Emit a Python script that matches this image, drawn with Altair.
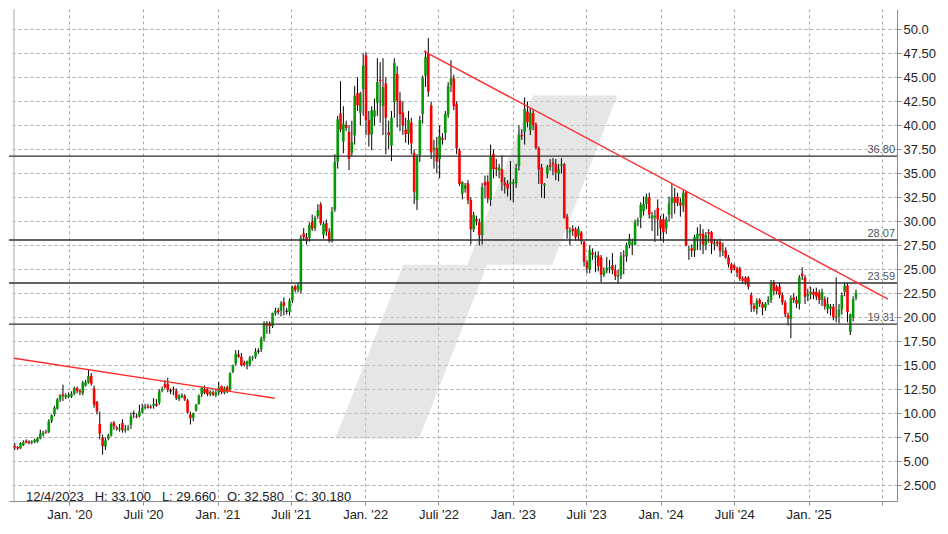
import pandas as pd
import altair as alt

# ---------------- data (weekly candles: open, high, low, close) ----------------
seg_2019_2020 = [
    (6.6, 6.9, 6.2, 6.45), (6.5, 6.6, 6.2, 6.35), (6.35, 7.0, 6.3, 6.9), (6.7, 7.2, 6.6, 7.0),
    (7.15, 7.3, 6.9, 6.95), (7.05, 7.2, 6.8, 6.9), (6.95, 7.2, 6.8, 7.05), (7.0, 7.4, 6.9, 7.25),
    (7.05, 7.5, 6.95, 7.4), (7.4, 8.3, 7.3, 7.9), (7.8, 8.2, 7.6, 8.0), (8.1, 8.3, 7.9, 8.0),
    (8.05, 9.4, 7.95, 9.2), (9.2, 9.9, 9.0, 9.8), (9.9, 10.8, 9.7, 10.6), (10.5, 11.6, 10.4, 11.45),
    (11.45, 12.0, 11.2, 11.9), (12.0, 13.0, 11.3, 11.8), (11.7, 12.1, 11.5, 11.9), (11.7, 12.2, 11.6, 11.9),
    (11.75, 12.3, 11.6, 12.05), (12.05, 12.8, 11.9, 12.65), (12.65, 12.8, 12.1, 12.35), (12.35, 12.5, 11.9, 12.2),
    (12.1, 13.4, 11.9, 13.2), (12.9, 13.5, 12.8, 13.25), (13.2, 14.6, 13.1, 13.9), (13.9, 14.2, 12.9, 13.1),
    (12.6, 12.9, 10.6, 10.9), (11.2, 11.3, 9.9, 10.2), (8.9, 10.2, 7.3, 7.9), (7.5, 7.8, 5.7, 6.6),
    (6.55, 7.5, 6.2, 7.2), (7.4, 7.9, 7.2, 7.7), (7.7, 9.1, 7.6, 8.9), (9.05, 9.2, 8.3, 8.65),
    (8.55, 8.7, 8.2, 8.4), (8.35, 8.9, 8.1, 8.45), (9.0, 9.4, 8.0, 8.25), (8.25, 8.8, 8.0, 8.35),
    (8.35, 8.8, 8.2, 8.5), (8.8, 10.1, 8.4, 9.7), (9.95, 10.3, 9.5, 9.95), (9.75, 10.0, 9.5, 9.65),
    (9.7, 10.9, 9.6, 10.2), (10.2, 11.0, 10.0, 10.55), (10.6, 11.0, 10.4, 10.7), (10.75, 11.0, 10.5, 10.6),
    (10.7, 10.9, 10.5, 10.6), (10.8, 11.6, 10.5, 11.0), (11.0, 11.5, 10.7, 10.8), (11.1, 12.5, 10.9, 12.3),
]
seg_2020_2021 = [
    (12.35, 12.8, 12.2, 12.55), (13.05, 13.5, 12.6, 12.7), (13.1, 13.7, 12.2, 12.45), (12.3, 12.6, 12.0, 12.3),
    (12.55, 12.8, 11.9, 12.45), (12.35, 12.6, 11.4, 11.6), (11.5, 12.0, 11.3, 11.85), (11.75, 12.1, 11.6, 11.9),
    (11.85, 12.0, 11.3, 11.45), (11.35, 11.5, 10.0, 10.1), (9.9, 10.2, 8.85, 9.5), (9.55, 10.1, 9.2, 10.0),
    (10.3, 11.0, 10.2, 10.9), (11.0, 12.0, 10.9, 11.85), (12.0, 12.8, 11.7, 12.65), (12.55, 12.9, 12.0, 12.15),
    (12.5, 12.7, 11.8, 12.0), (12.0, 12.4, 11.8, 12.25), (12.2, 12.4, 11.8, 11.95), (11.9, 12.5, 11.7, 12.2),
    (12.2, 13.3, 11.9, 12.7), (12.85, 12.9, 12.0, 12.2), (12.15, 12.8, 12.0, 12.65), (12.75, 12.9, 12.1, 12.3),
    (12.5, 14.3, 12.3, 14.15), (14.35, 15.1, 14.2, 15.0), (15.2, 16.6, 15.0, 16.2), (16.15, 16.6, 15.8, 15.9),
    (15.9, 16.3, 14.9, 15.05), (15.3, 15.5, 14.9, 15.05), (15.1, 15.5, 14.6, 15.45), (15.1, 16.0, 14.9, 15.8),
    (15.75, 16.0, 15.5, 15.85), (15.9, 16.8, 15.7, 16.45), (16.45, 16.8, 16.2, 16.45), (16.7, 18.0, 16.4, 17.8),
    (17.8, 19.6, 17.5, 19.4), (19.4, 19.6, 18.3, 19.15), (19.35, 19.6, 18.3, 19.1), (19.1, 20.5, 18.9, 20.45),
    (20.45, 21.0, 20.2, 20.7), (20.75, 21.0, 20.3, 20.55), (20.7, 21.7, 20.1, 21.45), (21.6, 22.1, 20.2, 21.2),
    (20.6, 21.0, 20.3, 20.6), (20.6, 22.0, 20.2, 21.75), (21.75, 23.3, 21.5, 23.15), (23.25, 23.4, 22.6, 22.85),
    (22.9, 23.6, 22.6, 23.3),
]
seg_2021_2022 = [
    (22.8, 28.6, 22.5, 28.3), (28.75, 29.3, 28.0, 28.35), (28.35, 28.8, 27.6, 27.95), (28.3, 29.9, 27.9, 29.63),
    (29.97, 30.7, 29.0, 29.23), (29.3, 30.6, 29.0, 30.37), (30.57, 31.8, 30.3, 31.15), (31.78, 32.0, 29.6, 29.8),
    (28.62, 30.0, 28.2, 29.76), (29.83, 30.2, 28.5, 28.96), (28.96, 29.3, 27.8, 27.95), (27.95, 31.5, 27.8, 31.04),
    (31.21, 37.0, 31.0, 36.2), (36.26, 41.0, 35.5, 40.64), (41.25, 44.6, 39.3, 39.56), (38.3, 42.0, 37.1, 40.13),
    (40.07, 40.5, 39.4, 39.73), (39.33, 40.0, 35.35, 36.53), (37.14, 40.5, 36.8, 38.28), (38.96, 44.1, 38.0, 43.1),
    (43.37, 45.0, 41.5, 42.09), (41.31, 43.5, 40.0, 43.37), (43.77, 47.5, 41.0, 46.23), (47.31, 47.6, 39.0, 40.57),
    (40.57, 41.5, 37.8, 39.06), (39.06, 42.0, 37.4, 41.58), (40.91, 42.8, 40.0, 41.58), (42.36, 47.0, 41.0, 44.51),
    (44.78, 46.6, 40.3, 44.61), (42.0, 47.0, 39.0, 44.0), (44.38, 45.0, 37.0, 40.81), (39.29, 40.5, 37.5, 38.99),
    (37.88, 41.5, 36.3, 40.81), (42.42, 47.0, 40.8, 46.53), (45.39, 46.2, 39.8, 42.59), (42.59, 43.5, 39.4, 41.18),
    (41.35, 42.5, 39.0, 40.0), (39.56, 40.8, 38.2, 39.1), (39.13, 41.5, 38.0, 40.57), (40.3, 40.8, 37.0, 38.15),
    (37.14, 37.5, 31.8, 33.1), (32.22, 37.0, 31.2, 36.7), (36.87, 41.0, 36.2, 40.57), (41.18, 45.2, 40.2, 44.95),
    (45.19, 47.8, 44.0, 47.14), (47.47, 49.1, 43.0, 43.54), (42.09, 42.5, 36.5, 37.2), (37.54, 38.5, 35.5, 37.71),
    (37.64, 38.8, 35.0, 36.26), (36.5, 40.0, 34.5, 38.85), (38.7, 39.2, 38.0, 38.5),
]
seg_2022_2023 = [
    (39.2, 41.5, 38.5, 41.2), (41.1, 44.5, 40.8, 44.1), (44.2, 46.8, 43.5, 44.9), (44.9, 45.3, 41.6, 42.0),
    (42.2, 42.5, 37.0, 37.6), (37.4, 37.6, 33.7, 33.9), (32.9, 34.2, 32.3, 34.1), (33.4, 34.0, 33.0, 33.75),
    (33.99, 34.3, 31.8, 32.2), (32.23, 32.5, 27.6, 29.18), (29.18, 31.0, 28.9, 30.7), (30.26, 30.6, 29.6, 30.03),
    (29.92, 30.3, 27.5, 28.57), (28.57, 34.0, 27.6, 33.58), (34.09, 34.77, 32.4, 33.75), (34.16, 34.8, 31.9, 32.4),
    (32.23, 38.0, 31.6, 36.81), (37.04, 37.5, 34.5, 35.45), (35.62, 36.5, 34.7, 35.45), (35.3, 36.0, 34.5, 35.62),
    (35.45, 36.9, 33.2, 34.09), (34.09, 34.6, 32.9, 33.75), (33.92, 34.3, 32.6, 33.42), (33.92, 36.3, 32.2, 34.09),
    (33.92, 34.4, 32.0, 34.09), (33.99, 36.0, 33.5, 35.55), (35.79, 40.0, 35.3, 39.01), (39.01, 39.6, 38.5, 38.84),
    (39.35, 42.9, 38.0, 41.72), (41.45, 42.5, 39.8, 40.36), (39.5, 41.8, 39.0, 41.31), (41.31, 41.6, 39.5, 40.03),
    (40.09, 40.3, 37.5, 37.65), (37.65, 37.8, 33.9, 35.45), (35.62, 36.0, 32.5, 33.92), (33.75, 34.0, 32.4, 33.92),
    (34.94, 35.9, 34.5, 35.69), (35.86, 36.5, 35.3, 35.69), (36.13, 36.6, 34.8, 35.96), (35.96, 36.5, 34.3, 35.11),
    (34.94, 36.0, 34.2, 35.45), (35.82, 36.6, 35.0, 35.96), (35.96, 36.1, 30.3, 30.36), (30.5, 30.8, 28.2, 29.18),
    (28.84, 29.4, 27.5, 29.08), (29.25, 29.6, 28.5, 29.01), (29.18, 29.4, 28.0, 28.33), (28.5, 29.5, 28.0, 29.25),
    (28.84, 29.0, 27.6, 27.99), (27.89, 28.0, 25.3, 25.79), (25.79, 26.0, 24.6, 25.11),
]
seg_2023_2024 = [
    (25.02, 27.5, 24.6, 27.03), (26.76, 27.2, 26.0, 26.53), (26.26, 26.86, 24.7, 26.46), (26.46, 26.9, 24.8, 25.35),
    (26.26, 26.5, 23.67, 24.45), (24.45, 25.2, 24.2, 24.85), (24.85, 26.3, 24.6, 25.18), (25.12, 26.0, 24.6, 25.25),
    (25.42, 26.7, 24.5, 24.92), (24.92, 25.5, 23.9, 24.31), (24.24, 25.0, 23.51, 24.41), (24.41, 26.8, 24.0, 26.36),
    (26.46, 27.0, 24.5, 26.36), (26.36, 27.8, 25.8, 27.53), (27.53, 28.7, 27.2, 28.2), (27.6, 28.2, 26.5, 27.8),
    (27.6, 30.2, 27.5, 29.95), (29.95, 30.4, 29.5, 30.12), (30.39, 32.0, 29.3, 31.73), (31.06, 32.6, 30.6, 31.83),
    (31.83, 32.9, 31.3, 32.57), (32.5, 33.0, 30.3, 30.72), (30.29, 31.0, 29.0, 30.62), (30.4, 31.2, 27.87, 30.62),
    (31.39, 32.3, 28.5, 30.22), (30.22, 30.6, 28.0, 29.28), (30.22, 30.8, 27.8, 28.88), (29.28, 30.5, 28.7, 30.22),
    (30.72, 32.6, 30.0, 31.9), (31.9, 33.91, 30.3, 32.5), (32.5, 33.5, 30.8, 31.96), (32.57, 33.0, 31.6, 31.9),
    (31.96, 32.4, 30.5, 31.66), (31.63, 33.3, 31.0, 32.97), (33.07, 33.2, 27.4, 27.53), (27.0, 27.5, 26.0, 27.1),
    (27.2, 27.6, 26.3, 26.96), (26.96, 28.6, 26.3, 28.37), (28.2, 29.4, 27.0, 28.71), (28.71, 29.71, 27.0, 28.54),
    (28.71, 29.2, 26.6, 27.6), (27.53, 28.9, 27.0, 28.54), (28.88, 29.2, 27.8, 28.71), (28.88, 29.0, 26.6, 27.7),
    (27.6, 28.2, 27.0, 27.8), (27.87, 28.1, 27.4, 27.7), (27.87, 28.2, 26.3, 26.93), (26.8, 27.8, 26.4, 26.93),
    (27.0, 27.3, 26.1, 26.26), (26.26, 26.5, 25.2, 25.52), (25.52, 25.7, 24.6, 24.92),
]
seg_2024_2025 = [
    (25.43, 25.6, 24.9, 25.1), (25.1, 25.3, 24.2, 24.67), (25.1, 25.3, 23.8, 24.0), (24.07, 24.3, 23.5, 23.83),
    (24.17, 24.3, 23.4, 23.67), (24.17, 24.3, 22.9, 23.17), (22.33, 22.6, 20.57, 21.33), (21.23, 21.5, 20.6, 20.9),
    (20.9, 22.0, 20.33, 21.73), (21.83, 22.0, 21.1, 21.43), (21.43, 21.6, 20.23, 21.0), (21.0, 21.6, 20.7, 21.43),
    (21.57, 22.2, 21.3, 21.83), (21.83, 23.9, 21.5, 23.57), (23.67, 23.9, 22.3, 22.77), (23.17, 23.4, 22.4, 22.73),
    (23.23, 23.6, 22.0, 22.33), (22.33, 22.6, 21.3, 21.57), (21.57, 21.8, 20.0, 20.33), (20.23, 20.5, 19.17, 19.9),
    (19.83, 22.3, 17.83, 22.0), (22.07, 22.5, 21.5, 21.83), (21.83, 22.2, 21.0, 21.43), (21.43, 24.4, 20.83, 24.17),
    (24.57, 25.23, 23.9, 24.3), (24.17, 24.4, 21.4, 22.17), (22.17, 23.0, 21.7, 22.43), (22.43, 23.2, 21.9, 22.67),
    (22.67, 23.0, 21.9, 22.33), (22.67, 23.1, 21.8, 22.17), (22.57, 22.9, 21.4, 21.83), (21.83, 23.0, 21.2, 22.67),
    (21.9, 22.2, 20.8, 21.17), (20.9, 22.1, 20.4, 21.43), (20.9, 21.4, 20.2, 21.17), (21.1, 21.4, 19.7, 20.0),
    (20.0, 24.17, 19.5, 20.1), (20.1, 21.4, 19.4, 20.83), (20.83, 22.6, 20.3, 22.33), (22.67, 23.67, 22.2, 23.33),
    (23.33, 23.6, 19.5, 20.57), (18.5, 20.4, 18.17, 20.33), (20.0, 22.2, 19.6, 21.9), (22.07, 22.9, 21.8, 22.57),
]
first_week = "2019-08-19"

# horizontal support / resistance levels
level_values = [36.80, 28.07, 23.59, 19.31]

# trend lines (two points each)
trend_ids = ["a", "a", "b", "b"]
trend_dates = ["2019-08-17", "2021-05-22", "2022-05-26", "2025-07-16"]
trend_values = [15.75, 11.59, 47.74, 21.92]

# watermark logo: two slanted bands, each given as outline points (date, upper price, lower price)
wm_band = ["low", "low", "low", "low", "up", "up", "up", "up"]
wm_dates = ["2021-10-19", "2022-04-05", "2022-05-14", "2022-10-29",
            "2022-09-11", "2023-02-19", "2023-04-08", "2023-09-16"]
wm_upper = [7.36, 25.49, 25.49, 25.49, 25.49, 43.11, 43.11, 43.11]
wm_lower = [7.36, 7.36, 7.36, 25.49, 25.49, 25.49, 25.49, 43.11]

# info line
info_date = "12/4/2023"
info_h, info_l, info_o, info_c = "33.100", "29.660", "32.580", "30.180"

# axes
x_tick_dates = ["2020-01-01", "2020-07-01", "2021-01-01", "2021-07-01", "2022-01-01", "2022-07-01",
                "2023-01-01", "2023-07-01", "2024-01-01", "2024-07-01", "2025-01-01", "2025-07-01"]
x_tick_labels = ["Jan. '20", "Juli '20", "Jan. '21", "Juli '21", "Jan. '22", "Juli '22",
                 "Jan. '23", "Juli '23", "Jan. '24", "Juli '24", "Jan. '25", ""]
y_tick_values = [2.5, 5.0, 7.5, 10.0, 12.5, 15.0, 17.5, 20.0, 22.5, 25.0, 27.5, 30.0,
                 32.5, 35.0, 37.5, 40.0, 42.5, 45.0, 47.5, 50.0]
y_tick_labels = ["2.500", "5.00", "7.50", "10.00", "12.50", "15.00", "17.50", "20.00", "22.50", "25.00",
                 "27.50", "30.00", "32.50", "35.00", "37.50", "40.00", "42.50", "45.00", "47.50", "50.0"]
x_domain = ["2019-08-17", "2025-07-26"]
y_domain = [0.88, 52.13]

# ---------------- build tables ----------------
def ms(s):
    return int(pd.Timestamp(s).value // 10**6)

rows = seg_2019_2020 + seg_2020_2021 + seg_2021_2022 + seg_2022_2023 + seg_2023_2024 + seg_2024_2025
dates = pd.date_range(first_week, periods=len(rows), freq="7D")
candles = pd.DataFrame(rows, columns=["o", "h", "l", "c"])
candles["t"] = dates.asi8 // 10**6
candles["lo"] = candles[["o", "c"]].min(axis=1)
candles["hi"] = candles[["o", "c"]].max(axis=1)
flat = (candles["hi"] - candles["lo"]) < 0.1
candles.loc[flat, "hi"] = candles.loc[flat, "lo"] + 0.1
candles["dir"] = ["up" if c > o else ("down" if c < o else "flat") for o, c in zip(candles["o"], candles["c"])]

levels = pd.DataFrame({"v": level_values})
trends = pd.DataFrame({"id": trend_ids, "t": [ms(d) for d in trend_dates], "v": trend_values})
wm = pd.DataFrame({"band": wm_band, "t": [ms(d) for d in wm_dates], "u": wm_upper, "d": wm_lower})
nb = "\u00a0\u00a0\u00a0"
info_text = f"{info_date}{nb}H: {info_h}{nb}L: {info_l}{nb}O: {info_o}{nb}C: {info_c}"
info = pd.DataFrame({"txt": [info_text]})
frame = pd.DataFrame({"edge": [ms(x_domain[0])]})

W, H = 888, 492
FONT = "Liberation Sans"
GRID = "#ababab"

x_scale = alt.Scale(type="utc", domain=[ms(x_domain[0]), ms(x_domain[1])], nice=False)
y_scale = alt.Scale(domain=y_domain, nice=False, zero=False)

# label expressions built as nested conditions from the label lists
x_label_expr = '""'
for d, lab in reversed(list(zip(x_tick_dates, x_tick_labels))):
    x_label_expr = f"utcFormat(datum.value, \"%Y-%m-%d\") == \"{d}\" ? \"{lab}\" : ({x_label_expr})"
y_label_expr = '""'
for v, lab in reversed(list(zip(y_tick_values, y_tick_labels))):
    y_label_expr = f"abs(datum.value - {v}) < 0.01 ? \"{lab}\" : ({y_label_expr})"

x_axis = alt.Axis(values=[alt.DateTime(year=int(d[:4]), month=int(d[5:7]), date=1, utc=True) for d in x_tick_dates],
                  labelExpr=x_label_expr, title=None,
                  grid=True, gridDash=[3, 3], gridColor=GRID, gridWidth=1,
                  domainColor="#8c8c8c", tickColor="#8c8c8c", tickSize=4, labelPadding=3,
                  labelFont=FONT, labelFontSize=13, labelColor="#222222", labelAngle=0,
                  labelOverlap=False, labelFlush=False)
y_axis = alt.Axis(orient="right", values=y_tick_values, labelExpr=y_label_expr, title=None,
                  grid=True, gridDash=[3, 3], gridColor=GRID, gridWidth=1,
                  domainColor="#8c8c8c", tickColor="#8c8c8c", tickSize=4, labelPadding=2,
                  labelFont=FONT, labelFontSize=13, labelColor="#222222", labelOverlap=False,
                  labelFlush=False)

def X(field):
    return alt.X(field, scale=x_scale, axis=x_axis)

def Y(field):
    return alt.Y(field, scale=y_scale, axis=y_axis)

watermark = alt.Chart(wm).mark_area(color="#cdcdcd", opacity=0.5).encode(
    x=X("t:T"), y=Y("u:Q"), y2="d:Q", detail="band:N",
)

left_border = alt.Chart(frame).mark_rule(color="#c4c4c4", strokeWidth=1.5).encode(
    x=X("edge:T")
)

level_rules = alt.Chart(levels).mark_rule(color="#2e2e2e", strokeWidth=1.3).encode(
    y=Y("v:Q")
)
level_text = alt.Chart(levels).mark_text(align="right", baseline="bottom", dy=-1, font=FONT,
                                         fontSize=11, color="#555555").encode(
    x=alt.value(W - 2),
    y=Y("v:Q"),
    text=alt.Text("v:Q", format=".2f"),
)

wicks = alt.Chart(candles).mark_rule(color="#000000", strokeWidth=1).encode(
    x=X("t:T"), y=Y("l:Q"), y2="h:Q",
)
bodies = alt.Chart(candles).mark_bar(size=2.6).encode(
    x=X("t:T"), y=Y("lo:Q"), y2="hi:Q",
    color=alt.Color("dir:N", scale=alt.Scale(domain=["up", "down", "flat"],
                                            range=["#079907", "#ff0000", "#000000"]), legend=None),
)

trend_lines = alt.Chart(trends).mark_line(color="#ff2b2b", strokeWidth=1.4, clip=True).encode(
    x=X("t:T"), y=Y("v:Q"), detail="id:N",
)

info_mark = alt.Chart(info).mark_text(align="left", baseline="alphabetic", font=FONT,
                                      fontSize=13, color="#222222").encode(
    x=alt.value(17), y=alt.value(492), text="txt:N"
)

chart = alt.layer(watermark, left_border, wicks, bodies, level_rules, level_text, trend_lines,
                  info_mark).properties(
    width=W, height=H, padding=0, background="white"
).configure_view(strokeWidth=0)

chart.save("out.html", embed_options={"renderer": "svg", "actions": False})
